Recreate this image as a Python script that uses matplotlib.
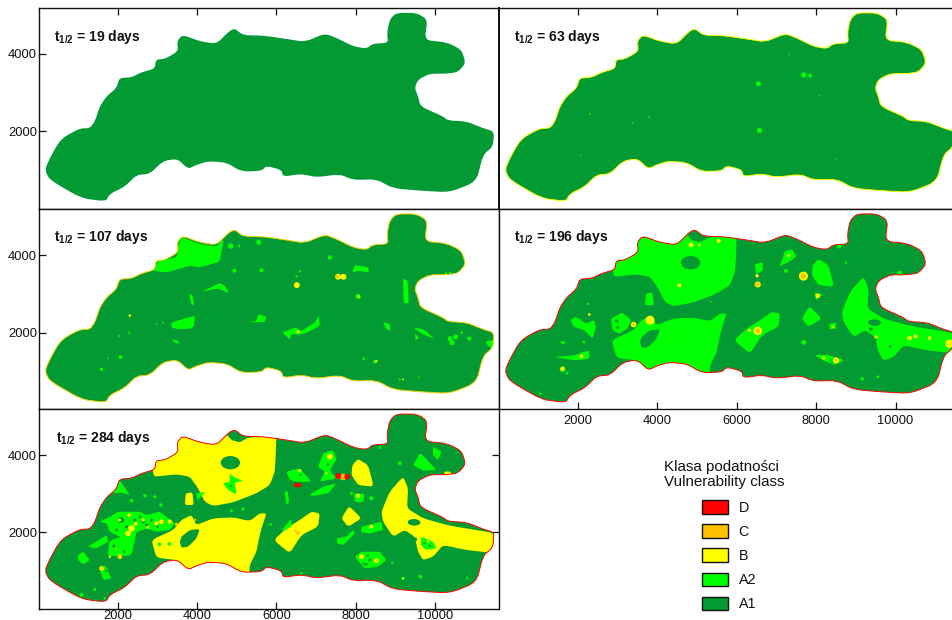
import matplotlib
matplotlib.use("Agg")
import matplotlib.pyplot as plt
from matplotlib.patches import Ellipse, Patch, PathPatch
from matplotlib.path import Path

plt.rcParams['font.family'] = ['Liberation Sans', 'DejaVu Sans']
plt.rcParams['mathtext.fontset'] = 'custom'
plt.rcParams['mathtext.bf'] = 'Liberation Sans:bold'
plt.rcParams['mathtext.rm'] = 'Liberation Sans'

C_A1, C_A2, C_B, C_C, C_D = '#039A33', '#00FF00', '#FFFF00', '#FFC000', '#FF0000'

half_lives = [19, 63, 107, 196, 284]
x_ticks = [2000, 4000, 6000, 8000, 10000]
y_ticks = [2000, 4000]
legend_classes = ['D', 'C', 'B', 'A2', 'A1']
legend_colors = [C_D, C_C, C_B, C_A2, C_A1]

# Aquifer outline (map units)
outline = [(160,1009),(286,1310),(496,1698),(664,1871),(1042,2078),(1294,2086),(1420,2259),(1546,2647),
 (1714,2905),(1966,3121),(2040,3379),(2345,3397),(2597,3526),(2933,3621),(2960,3853),(3185,3871),
 (3521,4069),(3496,4328),(3630,4491),(4067,4328),(4487,4259),(4807,4586),(4950,4655),(5160,4483),
 (5664,4474),(6252,4388),(6714,4310),(7218,4526),(7513,4414),(7933,4198),(8269,4138),(8437,4267),
 (8815,4284),(8790,4543),(8857,4888),(9025,5060),(9529,5060),(9807,4888),(9739,4353),(10286,4302),
 (10664,4112),(10773,3767),(10580,3534),(10286,3491),(9866,3491),(9571,3336),(9487,3121),(9571,2905),
 (9630,2647),(10202,2388),(10328,2284),(10790,2259),(11210,2086),(11487,2000),(11462,1612),(11210,1397),
 (11042,707),(10370,431),(9613,474),(8941,534),(8521,767),(7933,750),(7597,897),(7008,819),(6630,905),
 (6168,836),(6126,1009),(5748,1112),(5622,983),(5118,966),(4739,1198),(4277,1233),(3983,1138),(3773,1034),
 (3504,1293),(3143,1241),(2807,905),(2471,879),(2176,578),(1798,388),(1697,198),(1084,276),(286,750)]

# Large zones shared by t1/2 = 196 (A2) and t1/2 = 284 (B)
zone_upper = [(2891,3526),(2849,3871),(3437,4560),(4739,4534),(4866,4388),(5076,4328),(5286,4448),(6000,4517),
 (5983,4000),(5958,3569),(5832,3224),(5496,3009),(4908,2776),(4403,2681),(4193,2793),(4025,3138),(3815,3440),
 (3479,3500),(2933,3440)]
zone_lower = [(2849,1802),(3395,2060),(3605,2319),(3857,2448),(3983,2190),(4403,2362),(4908,2388),(5328,2293),
 (5580,2491),(5748,2491),(5622,2103),(5563,1845),(5496,1500),(5328,1155),(5311,810),(4403,810),(3731,897),
 (3479,1284),(2975,1345)]
zone_mid = [(5933,1802),(6252,2103),(6588,2319),(6882,2534),(7092,2491),(7050,2147),(6630,1931),(6336,1457)]
zone_d = [(8059,3897),(8311,3741),(8454,3181),(8059,3224),(7891,3483),(7916,3741)]
zone_e = [(7832,2681),(8143,2362),(7807,2147),(7639,2362)]
zone_right = [(9193,3440),(9319,3138),(9294,2621),(9697,2362),(10370,2172),(11546,1974),(11546,1457),(10790,1543),
 (10202,1672),(9950,1371),(9697,1284),(9571,1500),(9487,1888),(9235,2060),(8941,1888),(8689,2276),(8647,2534),(8857,3052)]
zone_small = [(3714,3009),(3882,3034),(3916,2707),(3689,2707)]
zones_big = [zone_upper, zone_lower, zone_mid, zone_d, zone_e, zone_right, zone_small]

hole_lower = [(3605,1888),(3815,2060),(4067,2086),(3983,1845),(3773,1629),(3605,1603),(3563,1759)]
hole_ell_x = [4840, 9471]
hole_ell_y = [3802, 2259]
hole_ell_w = [487, 319]
hole_ell_h = [345, 172]
hole_ell_a = [0, -2]

# t1/2 = 63
p63_a2_x = [6546,6571,7689,8075,2302,3378,3798,2075,7327,8504,7850]
p63_a2_y = [3233,2026,3457,2922,2457,2215,2371,1388,3982,1267,3440]
p63_a2_s = [22,24,24,2,3,3,3,2,2,2,14]

# t1/2 = 107
p107_polys = [
 [(2891,3595),(3017,3853),(3479,3939),(3521,4241),(3605,4457),(4067,4284),(4487,4224),(4672,4413),(4571,3827),(4067,3681),(3815,3724),(3227,3551)],
 [(4109,3052),(4571,3276),(4697,3207),(4806,3017),(4529,3138)],
 [(3798,2991),(3882,2965),(3924,2715),(3857,2715)],
 [(3353,2258),(3773,2388),(3941,2431),(3924,2189),(3857,2103),(3521,2086),(3353,2129)],
 [(5286,2258),(5496,2300),(5538,2474),(5748,2413),(5706,2276)],
 [(6151,2000),(6462,2129),(6630,2043),(6966,2258),(7075,2448),(7092,2172),(6672,1957),(6378,1957),(6336,1827)],
 [(7916,3551),(7975,3741),(8311,3681),(8336,3551),(8059,3595)],
 [(9193,3396),(9311,3336),(9336,2758),(9210,2758)],
 [(8689,2276),(8857,2215),(8874,2043),(8773,2086)],
 [(9445,2129),(9697,2086),(9991,1845),(9739,1931)],
 [(9487,1983),(9596,1870),(9512,1802)],
 [(11252,1758),(11504,1827),(11479,1526)],
 [(3353,1827),(3521,1784),(3563,1715),(3437,1741)],
]
p107_a2_x = [4848,5059,5554,4941,5622,10378,10521,10672,10865,10428,8059,7345,1588,2067,1756,8201,8479,2285,2033,2975,3143,6588,6504,9109,9596,10280,10380]
p107_a2_y = [4232,4232,4327,3595,3603,1845,1888,2000,1845,1741,2931,3940,1052,1370,1336,1327,1250,2000,1914,2215,2258,3578,3448,793,845,3530,3540]
p107_a2_s = [26,6,22,14,14,20,20,5,14,22,24,16,10,12,3,6,12,4,3,3,3,4,4,4,3,5,5]
p107_b_x = [6513,7555,7690,2302,6546,8521,9193,8085]
p107_b_y = [3224,3440,3440,2439,2017,1267,793,2931]
p107_b_s = [30,30,30,6,8,5,3,4]
p107_c_x = [7530]
p107_c_y = [3450]
p107_c_s = [10]

# t1/2 = 196
p196_polys = [
 [(1807,2319),(1950,2405),(2202,2233),(2412,2319),(2454,2146),(2370,1845),(2160,2060),(1907,2146)],
 [(2832,2362),(3126,2517),(3336,2319),(3252,2103),(3042,1974),(2874,2060)],
 [(1555,1793),(1697,1750),(1613,1681)],
 [(1403,1371),(1907,1414),(2286,1543),(2286,1327),(1907,1284)],
 [(1529,1069),(1655,1138),(1697,1008),(1571,983)],
 [(7159,3913),(7201,4086),(7412,4146),(7496,3957),(7327,3827),(7075,3715)],
 [(6462,3767),(6655,3810),(6655,3595),(6487,3508)],
 [(7958,3034),(8168,2982),(7999,2836)],
 [(8336,2232),(8505,2250),(8505,2103),(8336,2086)],
 [(7958,1422),(8294,1422),(8714,1293),(8462,1164),(8168,1293)],
]
p196_a2_x = [7243,8585,7690,10100,1050,1730,2250,2150,10950,8760,9160,9560,5350]
p196_a2_y = [3590,4220,1750,3530,420,950,2740,1760,2050,3800,810,860,2800]
p196_a2_s = [14,14,20,20,6,6,5,7,3,4,10,7,2]
p196_b_x = [4849,5059,5546,4554,7681,6529,2286,3403,3815,6529,6319,8042,7310,6512,9512,10353,10504,10857,11361,1613,2092,8504,8193,8420]
p196_b_y = [4258,4258,4362,3215,3457,3241,2465,2207,2319,2043,2060,2948,3982,3465,1888,1862,1905,1862,1715,1069,1388,1284,1345,2146]
p196_b_s = [18,5,14,12,70,32,6,26,70,60,8,18,8,10,10,16,14,10,60,16,10,30,8,4]
p196_c_x = [7681,6529,3403,6529,8042,8504]
p196_c_y = [3457,3241,2207,2043,2948,1284]
p196_c_s = [30,14,6,22,4,8]
p196_dark_x = [2980,3000,8360,8400,9380,9870,9500]
p196_dark_y = [2300,2130,1290,1230,2090,1640,1820]
p196_dark_s = [10,8,3,3,12,8,5]

# t1/2 = 284
p284_polys = [
 [(1546,2276),(1798,2405),(2008,2534),(2555,2534),(2723,2448),(3059,2534),(3227,2405),(3437,2233),(3311,2060),(2975,2017),(2723,2103),(2387,1974),(2134,1845),(1798,2017),(1714,2233)],
 [(1000,1414),(1126,1500),(1294,1284),(1126,1172),(1000,1284)],
 [(1252,1629),(1714,1931),(1756,1759),(1462,1586)],
 [(1546,1069),(1672,1155),(1840,810),(1630,767)],
 [(2050,3353),(2302,2965),(2050,3034),(1882,3009)],
 [(6252,3569),(6588,3655),(6882,3310),(6504,3310),(6336,3353)],
 [(7176,4043),(7429,4129),(7513,3871),(7345,3612),(7513,3397),(7092,3310),(7218,3569),(7050,3698)],
 [(6823,2965),(7176,3181),(7513,3267),(7303,3009),(6966,2948)],
 [(7529,1845),(7765,1888),(7933,2060),(7975,1974),(7765,1759),(7681,1672),(7529,1716)],
 [(8143,1500),(8605,1500),(8773,1284),(8563,1112),(8227,1069),(7975,1371)],
 [(8143,2147),(8647,2276),(8689,2060),(8353,1974),(8143,1996)],
 [(9630,4060),(10034,3612),(9697,3595),(9445,3741)],
 [(9950,4215),(10160,4086),(10076,3870),(9950,4000)],
 [(9655,1888),(9950,1758),(10034,1586),(9781,1543),(9638,1672)],
 [(6168,2103),(6378,2362),(6378,2147),(6151,2017)],
 [(6210,3060),(6290,3050),(6320,2780),(6250,2720)],
 [(4823,3525),(4908,3440),(5160,3327),(4950,3293),(4992,2982),(4781,3094),(4655,3267),(4823,3327)],
 [(1780,1780),(2480,2020),(2340,1400),(1750,1390)],
 [(7950,3010),(8230,2990),(8180,2780),(7980,2790)],
 [(3980,3000),(4220,3050),(4000,2830)],
]
p284_a2_x = [2681,2933,2344,3084,8395,7891,5160,4865,5857,9109,8605,6630,9630,9193,8924,10815,1420,1084,1672,9655,3300,3050]
p284_a2_y = [2948,2922,2818,2707,2879,3008,2603,2560,2207,3784,4189,940,853,810,1215,810,526,379,293,4991,1700,1690]
p284_a2_s = [10,8,12,10,16,8,8,8,6,12,6,5,12,10,5,5,8,14,5,4,12,12]
p284_b_x = [2285,2050,2344,2260,3100,2975,3311,2050,1588,1798,8143,8521,8395,8059,7345,6588,7260,4781,9193,10286,10360,9823,2640,2450,2750,1950]
p284_b_y = [2448,2319,2103,1974,2276,2233,2276,1370,1069,1370,1370,1267,2146,2948,3957,3595,3525,3310,810,3525,3530,1758,2320,2220,2130,1560]
p284_b_s = [10,5,36,26,18,14,14,18,18,5,20,20,12,12,26,8,4,5,3,14,10,5,8,12,6,3]
p284_c_x = [2302,2050,1588,8059,8521,6546,6480,3479,3941,3143,7681,8143]
p284_c_y = [2448,1370,1069,2931,1250,1983,2040,2207,2319,2267,3431,1370]
p284_c_s = [6,10,6,6,6,12,5,10,6,5,36,4]
p284_d_x = [7555,7781,6500,6570]
p284_d_y = [3457,3440,3224,3224]
p284_d_s = [30,26,18,18]
p284_dark_x = [2092,2639,2429,2849,2218,1966,2723,8353,8269,9739,2260,2560,3000,1900,2150,9870,9500,7300,7400,6600,4850,3500,1700,8300,8200]
p284_dark_y = [2319,2276,2319,2319,2146,2060,2190,1284,1172,1715,2030,2400,2150,1650,1500,1650,1820,3750,3550,3480,3200,2430,1000,1400,1190]
p284_dark_s = [28,10,8,8,8,6,8,8,6,5,6,6,6,8,6,5,12,6,6,5,4,5,5,5,4]

W, H = 952, 620
fig = plt.figure(figsize=(W/100, H/100), dpi=100)
fig.patch.set_facecolor('white')

def make_axes(left, top, width, height, xlim, ylim):
    ax = fig.add_axes([left/W, 1-(top+height)/H, width/W, height/H])
    ax.set_xlim(*xlim)
    ax.set_ylim(*ylim)
    ax.set_xticks(x_ticks)
    ax.set_yticks(y_ticks)
    ax.tick_params(direction='in', length=5, width=0.9, labelsize=9.3, pad=1.2, colors='#111111')
    for s in ax.spines.values():
        s.set_linewidth(1.0)
        s.set_color('#111111')
    return ax

def rounded(pts, r):
    """Closed path through the points with corners rounded by quadratic curves."""
    n = len(pts)
    verts, codes = [], []
    for i in range(n):
        p0, p1, p2 = pts[i-1], pts[i], pts[(i+1) % n]
        a = (p1[0] - r*(p1[0]-p0[0]), p1[1] - r*(p1[1]-p0[1]))
        b = (p1[0] + r*(p2[0]-p1[0]), p1[1] + r*(p2[1]-p1[1]))
        if i == 0:
            verts.append(a); codes.append(Path.MOVETO)
            first = a
        else:
            verts.append(a); codes.append(Path.LINETO)
        verts += [p1, b]
        codes += [Path.CURVE3, Path.CURVE3]
    verts.append(first); codes.append(Path.CLOSEPOLY)
    return Path(verts, codes)

XL = (0, 11600)
XL2 = (0, 11423)
ax1 = make_axes(38.5, 8, 460, 200.5, XL, (13, 5185))
ax2 = make_axes(498.5, 8, 453.5, 200.5, XL2, (13, 5185))
ax3 = make_axes(38.5, 208.5, 460, 200.5, XL, (30, 5200))
ax4 = make_axes(498.5, 208.5, 453.5, 200.5, XL2, (30, 5200))
ax5 = make_axes(38.5, 409, 460, 200, XL, (18, 5190))

R_OUT = 0.33

def base(ax):
    patch = PathPatch(rounded(outline, R_OUT), facecolor=C_A1, edgecolor='none', zorder=1)
    ax.add_patch(patch)
    return patch

def fill(ax, clip, pts, color, z=2, r=0.22):
    p = PathPatch(rounded(pts, r), facecolor=color, edgecolor='none', zorder=z)
    ax.add_patch(p)
    p.set_clip_path(clip)

def dots(ax, xs, ys, sizes, color, z=5):
    ax.scatter(xs, ys, s=[v*0.6 for v in sizes], c=color, linewidths=0, zorder=z)

def edge(ax, color):
    ax.add_patch(PathPatch(rounded(outline, R_OUT), facecolor='none', edgecolor=color, lw=0.7, zorder=8))

def big_zones(ax, clip, color):
    for z in zones_big:
        fill(ax, clip, z, color)
    fill(ax, clip, hole_lower, C_A1, 3)
    for x, y, w, h, a in zip(hole_ell_x, hole_ell_y, hole_ell_w, hole_ell_h, hole_ell_a):
        ax.add_patch(Ellipse((x, y), w, h, angle=a, facecolor=C_A1, edgecolor='none', zorder=3))

# Panel 1
base(ax1)
# Panel 2
base(ax2)
dots(ax2, p63_a2_x, p63_a2_y, p63_a2_s, C_A2)
edge(ax2, C_B)
# Panel 3
c3 = base(ax3)
for pts in p107_polys:
    fill(ax3, c3, pts, C_A2, 4, 0.15)
dots(ax3, p107_a2_x, p107_a2_y, p107_a2_s, C_A2)
dots(ax3, p107_b_x, p107_b_y, p107_b_s, C_B, 6)
dots(ax3, p107_c_x, p107_c_y, p107_c_s, C_C, 7)
edge(ax3, '#F5D000')
# Panel 4
c4 = base(ax4)
big_zones(ax4, c4, C_A2)
for pts in p196_polys:
    fill(ax4, c4, pts, C_A2, 4, 0.15)
dots(ax4, p196_a2_x, p196_a2_y, p196_a2_s, C_A2)
dots(ax4, p196_dark_x, p196_dark_y, p196_dark_s, C_A1, 5.5)
dots(ax4, p196_b_x, p196_b_y, p196_b_s, C_B, 6)
dots(ax4, p196_c_x, p196_c_y, p196_c_s, C_C, 7)
edge(ax4, C_D)
# Panel 5
c5 = base(ax5)
big_zones(ax5, c5, C_B)
for pts in p284_polys:
    fill(ax5, c5, pts, C_A2, 4, 0.15)
dots(ax5, p284_a2_x, p284_a2_y, p284_a2_s, C_A2)
dots(ax5, p284_dark_x, p284_dark_y, p284_dark_s, C_A1, 5.5)
dots(ax5, p284_b_x, p284_b_y, p284_b_s, C_B, 6)
dots(ax5, p284_c_x, p284_c_y, p284_c_s, C_C, 7)
dots(ax5, p284_d_x, p284_d_y, p284_d_s, C_D, 7.5)
edge(ax5, C_D)

# Ticks by panel
ax1.tick_params(top=True, bottom=False, left=True, right=False, labelbottom=False, labelleft=True)
ax2.tick_params(top=True, bottom=False, left=False, right=False, labelbottom=False, labelleft=False)
ax3.tick_params(top=False, bottom=False, left=True, right=False, labelbottom=False, labelleft=True)
ax4.tick_params(top=False, bottom=True, left=False, right=False, labelbottom=True, labelleft=False)
ax5.tick_params(top=False, bottom=True, left=True, right=True, labelbottom=True, labelleft=True)
ax4.tick_params(axis='x', pad=4)
ax5.tick_params(axis='x', pad=0.5)
ax2.spines['right'].set_visible(False)
ax4.spines['right'].set_visible(False)
ax1.spines['right'].set_linewidth(1.4)
ax2.spines['left'].set_linewidth(1.4)

title_pos = [(ax1, 15.5/460, 171/200.5), (ax2, 16/453.5, 171/200.5),
             (ax3, 16/460, 171.5/200.5), (ax4, 16/453.5, 171.5/200.5), (ax5, 17/460, 171/200)]
for (ax, tx, ty), hl in zip(title_pos, half_lives):
    ax.text(tx, ty, r"$\mathbf{t_{1/2}}$ = %d days" % hl, transform=ax.transAxes,
            fontsize=10, fontweight='bold', ha='left', va='center', color='#111111', zorder=20)

fig.text(664/W, 1-474.5/H, 'Klasa podatności\nVulnerability class', ha='left', va='center',
         multialignment='left', fontsize=10.9, linespacing=1.08, color='#111111')
handles = [Patch(facecolor=c, edgecolor='#111111', linewidth=1.0) for c in legend_colors]
leg = fig.legend(handles, legend_classes, loc='upper left', bbox_to_anchor=(702/W, 1-500/H),
                 frameon=False, fontsize=10.3, handlelength=1.85, handleheight=1.1,
                 labelspacing=0.66, handletextpad=0.7, borderpad=0, borderaxespad=0)
for t in leg.get_texts():
    t.set_color('#111111')

fig.savefig('out.png', dpi=100, facecolor='white')
